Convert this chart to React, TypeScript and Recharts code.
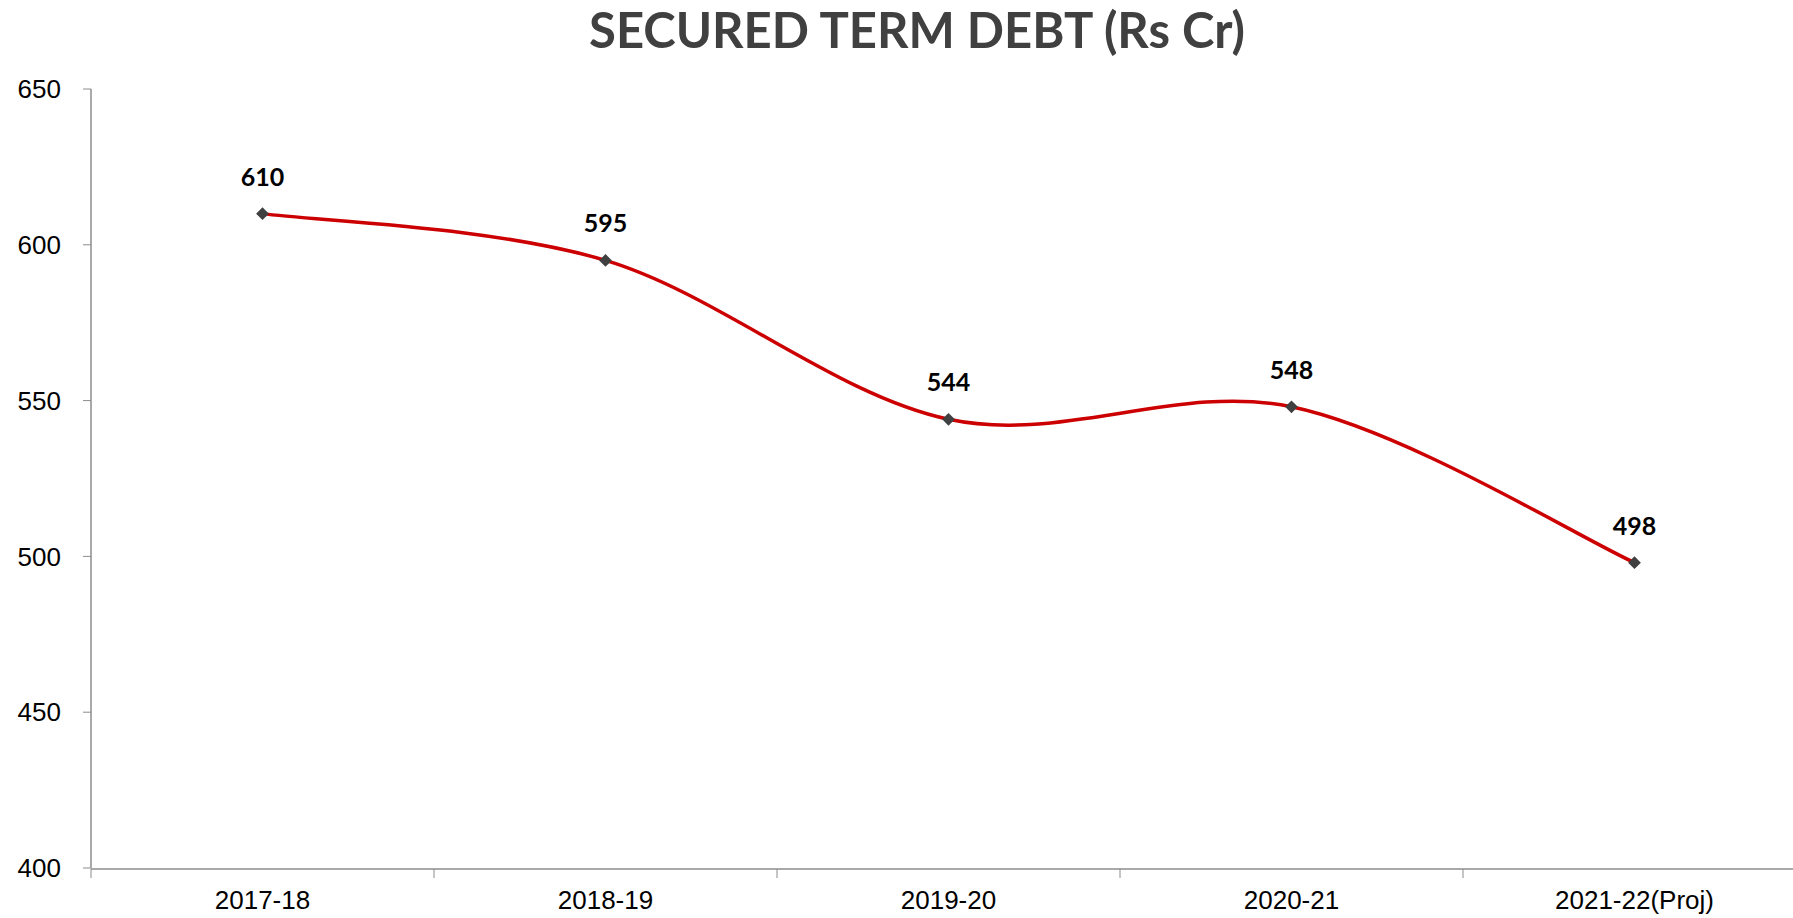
import React from 'react';
import { LineChart, Line, XAxis, YAxis, LabelList } from 'recharts';

const years = ['2017-18', '2018-19', '2019-20', '2020-21', '2021-22(Proj)'];
const debt = [610, 595, 544, 548, 498];
const yTicks = [400, 450, 500, 550, 600, 650];
const bandTicks = [0, 1, 2, 3, 4, 5];

const data = years.map((year, i) => ({ year, debt: debt[i] }));
const bandData = bandTicks.map((b) => ({ b, base: 400 }));

// smoothing close to the spreadsheet's smoothed line (Catmull-Rom style)
const smoothCurve = (context: any) => {
  let pts: number[][] = [];
  return {
    areaStart() {},
    areaEnd() {},
    lineStart() {
      pts = [];
    },
    point(x: number, y: number) {
      pts.push([+x, +y]);
    },
    lineEnd() {
      const n = pts.length;
      if (!n) return;
      context.moveTo(pts[0][0], pts[0][1]);
      for (let i = 0; i < n - 1; i++) {
        const p0 = pts[Math.max(i - 1, 0)];
        const p1 = pts[i];
        const p2 = pts[i + 1];
        const p3 = pts[Math.min(i + 2, n - 1)];
        context.bezierCurveTo(
          p1[0] + (p2[0] - p0[0]) / 6,
          p1[1] + (p2[1] - p0[1]) / 6,
          p2[0] - (p3[0] - p1[0]) / 6,
          p2[1] - (p3[1] - p1[1]) / 6,
          p2[0],
          p2[1]
        );
      }
    },
  };
};

const Diamond = (props: any) => {
  const { cx, cy } = props;
  if (cx == null || cy == null) return null;
  return (
    <rect
      x={cx - 4.5}
      y={cy - 4.5}
      width={9}
      height={9}
      fill="#404040"
      transform={`rotate(45 ${cx} ${cy})`}
    />
  );
};

const axisColor = '#8c8c8c';
const tickFont = { fill: '#000', fontSize: 26, fontFamily: '"Liberation Sans", Arial, sans-serif' };

export default function App() {
  return (
    <div style={{ position: 'absolute', left: 0, top: 0, width: 1793, height: 918, overflow: 'hidden', background: '#fff' }}>
      <div
        style={{
          position: 'absolute',
          left: 917,
          top: 0,
          transform: 'translateX(-50%)',
          whiteSpace: 'nowrap',
          fontFamily: 'Lato, sans-serif',
          fontWeight: 700,
          fontSize: 49,
          color: '#404040',
        }}
      >
        SECURED TERM DEBT (Rs Cr)
      </div>
      <LineChart width={1810} height={918} data={data} margin={{ top: 89, right: 4, bottom: 48, left: 0 }}>
        <XAxis
          xAxisId="band"
          dataKey="b"
          type="number"
          domain={[0, 5]}
          ticks={bandTicks}
          tickFormatter={() => ''}
          tickSize={9}
          height={1}
          axisLine={{ stroke: axisColor, strokeWidth: 1.5 }}
          tickLine={{ stroke: axisColor, strokeWidth: 1 }}
        />
        <XAxis
          dataKey="year"
          axisLine={false}
          tickLine={false}
          height={1}
          tickMargin={17}
          padding={{ left: 171.5, right: 171.5 }}
          tick={tickFont}
        />
        <YAxis
          width={91}
          domain={[400, 650]}
          ticks={yTicks}
          tickSize={8}
          tickMargin={22}
          axisLine={{ stroke: axisColor, strokeWidth: 1.5 }}
          tickLine={{ stroke: axisColor, strokeWidth: 1 }}
          tick={tickFont}
        />
        <Line
          xAxisId="band"
          data={bandData}
          dataKey="base"
          stroke="none"
          dot={false}
          activeDot={false}
          legendType="none"
          isAnimationActive={false}
        />
        <Line
          dataKey="debt"
          type={smoothCurve as any}
          stroke="#cc0000"
          strokeWidth={3.5}
          dot={<Diamond />}
          activeDot={false}
          isAnimationActive={false}
        >
          <LabelList
            dataKey="debt"
            position="top"
            offset={28}
            fill="#000"
            fontSize={25}
            fontWeight={700}
            fontFamily="Lato, sans-serif"
          />
        </Line>
      </LineChart>
    </div>
  );
}
